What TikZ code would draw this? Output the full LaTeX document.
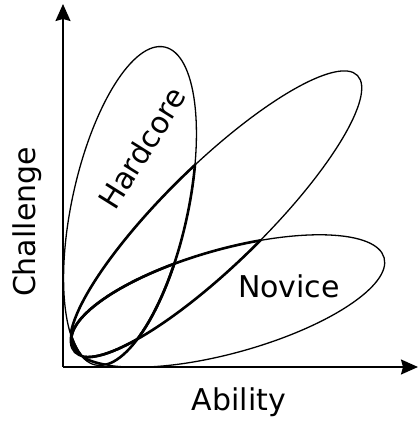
\documentclass[tikz,border=0pt]{standalone}
\usepackage{fontspec}
\setmainfont{DejaVu Sans}
\usetikzlibrary{arrows.meta}
\begin{document}
\begin{tikzpicture}[x=1pt,y=1pt,
  axis/.style={line width=1.7pt,-{Stealth[length=17pt,width=15pt,inset=2pt]}},
  petal/.style={line width=1.3pt},
  inner/.style={line width=2.6pt},
  lbl/.style={font=\fontsize{30}{34}\selectfont,inner sep=0pt}]
\useasboundingbox (0,0) rectangle (418,421);
\coordinate (O) at (63,54);
\coordinate (Ytip) at (63,417);
\coordinate (Xtip) at (418,54);
\draw[axis] (O) -- (Ytip);
\draw[axis] (O) -- (Xtip);
\def\hard{[rotate around={77.7:(130,215)}] (130,215) ellipse [x radius=162.7, y radius=58]}
\def\mid{[rotate around={44.4:(216,207)}] (216,207) ellipse [x radius=198, y radius=50]}
\def\nov{[rotate around={15.5:(228,120)}] (228,120) ellipse [x radius=162, y radius=52]}
\draw[petal] \hard;
\draw[petal] \mid;
\draw[petal] \nov;
\begin{scope}\clip \mid; \draw[inner] \hard; \end{scope}
\begin{scope}\clip \nov; \draw[inner] \hard; \end{scope}
\begin{scope}\clip \hard; \draw[inner] \mid; \end{scope}
\begin{scope}\clip \nov; \draw[inner] \mid; \end{scope}
\begin{scope}\clip \hard; \draw[inner] \nov; \end{scope}
\begin{scope}\clip \mid; \draw[inner] \nov; \end{scope}
\node[lbl,rotate=58] (hc) at (142,273) {Hardcore};
\node[lbl] (nv) at (289,135) {Novice};
\node[lbl,rotate=90] (ch) at (27,199) {Challenge};
\node[lbl] (ab) at (239,19) {Ability};
\end{tikzpicture}
\end{document}
